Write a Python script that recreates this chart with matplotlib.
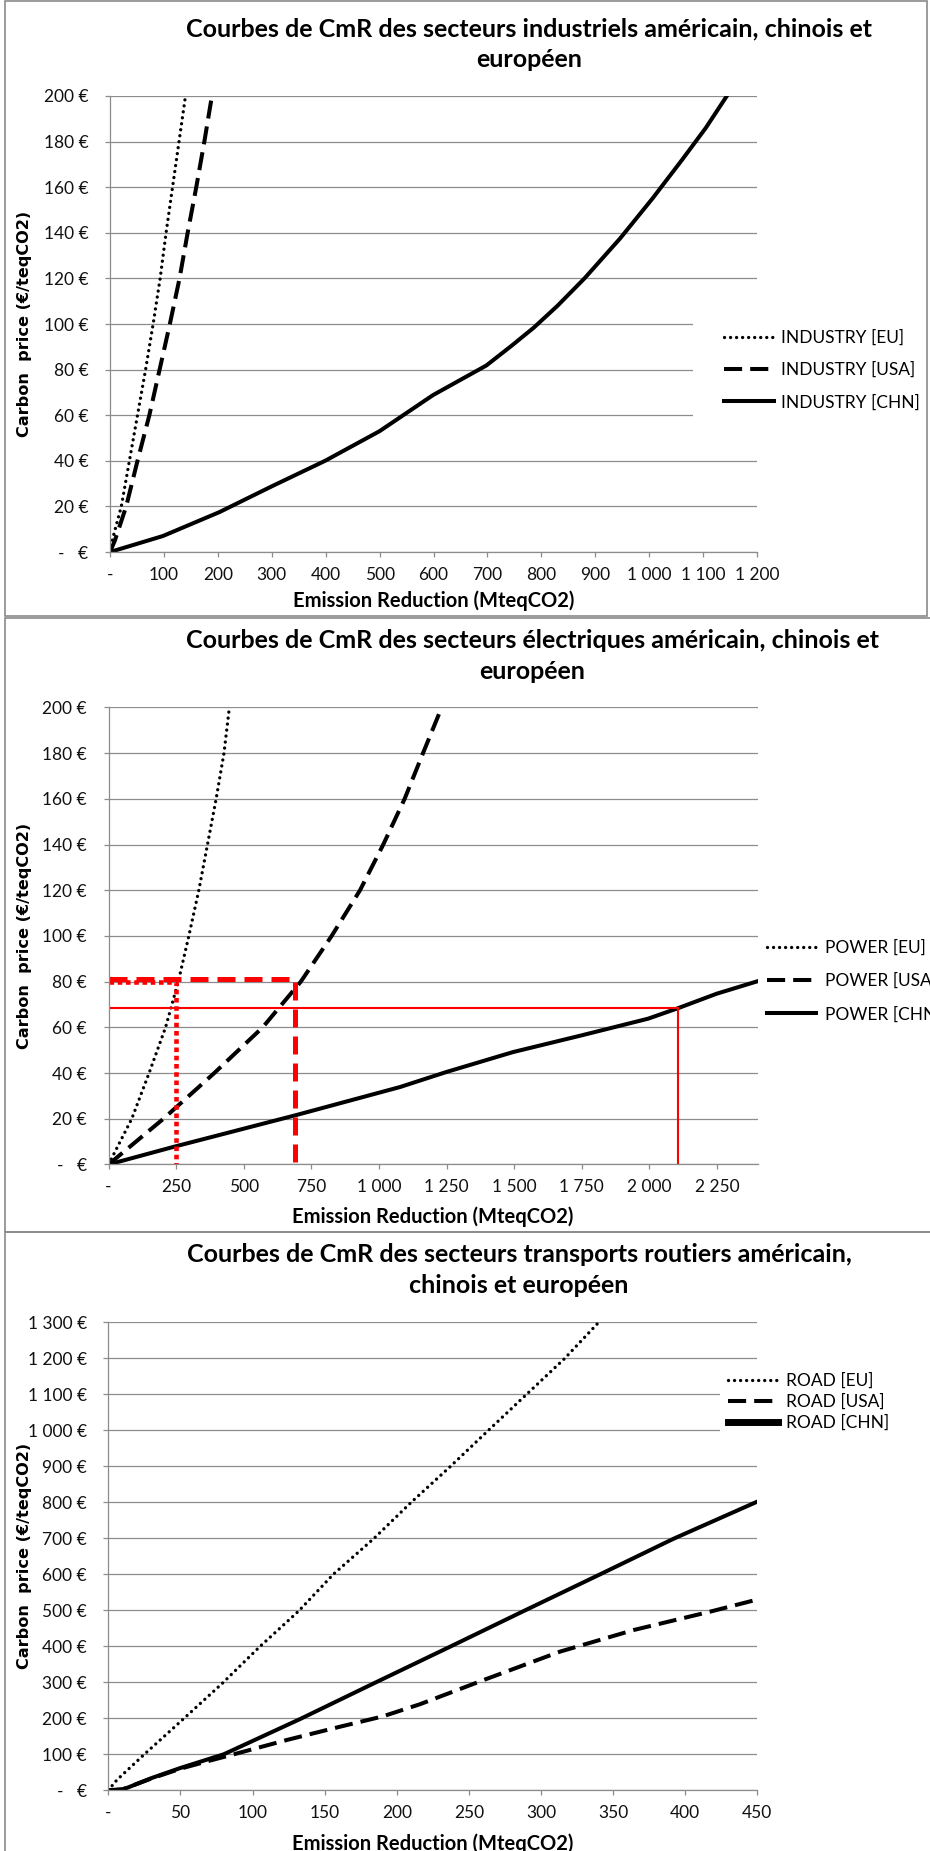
import matplotlib
matplotlib.use("Agg")
import matplotlib.pyplot as plt
from matplotlib.patches import Rectangle
from matplotlib.ticker import MultipleLocator, FuncFormatter

W, H = 930, 1851

# values
# x = emission reduction (MteqCO2), y = carbon price (EUR/teqCO2)
ind_eu_x = [0, 4, 21, 36, 51, 66, 80, 93, 104, 116, 128, 140]
ind_eu_y = [0, 5, 20, 40, 60, 80, 100, 120, 140, 160, 180, 200]
ind_usa_x = [0, 9, 30, 51, 73, 92, 111, 129, 144, 160, 175, 189]
ind_usa_y = [0, 5, 20, 40, 60, 80, 100, 120, 140, 160, 180, 200]
ind_chn_x = [0, 98, 203, 300, 399, 500, 599, 650, 698, 745, 786, 830, 880, 946, 1006, 1061, 1105, 1144]
ind_chn_y = [0, 7, 17.5, 28.8, 40, 53, 68.8, 75.5, 81.8, 90.5, 98.4, 108, 120, 137.5, 155, 172, 186, 200]

pow_eu_x = [0, 86, 150, 211, 258, 297, 334, 366, 398, 427, 447]
pow_eu_y = [0, 20, 40, 60, 80, 100, 120, 140, 160, 180, 200]
pow_usa_x = [0, 203, 391, 570, 711, 825, 930, 1016, 1095, 1163, 1232]
pow_usa_y = [0, 20, 40, 60, 80, 100, 120, 140, 160, 180, 200]
pow_chn_x = [0, 240, 690, 1078, 1250, 1496, 1749, 1995, 2106, 2248, 2400]
pow_chn_y = [0, 7.7, 21.5, 33.9, 40.5, 49.2, 56.5, 63.8, 68.4, 74.7, 80.2]
# red read-off lines (EU, USA, CHN): reduction reached at the given price
pow_read_x = [250, 690, 2106]
pow_read_y = [80, 81, 68.7]

road_eu_x = [0, 6, 25, 52, 79, 105, 132, 156, 184, 210, 237, 263, 290, 316, 340]
road_eu_y = [0, 29, 100, 198, 297, 399, 498, 600, 699, 800, 899, 998, 1100, 1198, 1300]
road_usa_x = [0, 10, 30, 50, 70, 87, 124, 161, 190, 216, 260, 313, 364, 417, 450]
road_usa_y = [0, 3, 33, 60, 82, 100, 140, 177, 205, 239, 306, 385, 445, 496, 530]
road_chn_x = [0, 10, 30, 50, 80, 133, 184, 237, 288, 341, 392, 450]
road_chn_y = [0, 2, 34, 62, 100, 198, 297, 399, 498, 600, 699, 802]

titles = [
    "Courbes de CmR des secteurs industriels américain, chinois et\neuropéen",
    "Courbes de CmR des secteurs électriques américain, chinois et\neuropéen",
    "Courbes de CmR des secteurs transports routiers américain,\nchinois et européen",
]
xlabel = "Emission Reduction (MteqCO2)"
ylabel = "Carbon  price (€/teqCO2)"

plt.rcParams['font.family'] = ['Lato', 'DejaVu Sans']

GRID = '#8c8c8c'
DOT = dict(color='black', lw=2.4, linestyle=(0, (0.01, 1.8)), dash_capstyle='round')
DASH = dict(color='black', lw=2.9, linestyle=(0, (4.5, 2.0)))
SOLID = dict(color='black', lw=2.9)
FS = 12.5

fig = plt.figure(figsize=(W / 100, H / 100), dpi=100)


def px_axes(left, right, top, bottom):
    return fig.add_axes([left / W, 1 - bottom / H, (right - left) / W, (bottom - top) / H])


def euro_fmt(v, pos):
    if v == 0:
        return '-   €'
    return '{:,.0f} €'.format(v).replace(',', ' ')


def mt_fmt(v, pos):
    if v == 0:
        return '-'
    return '{:,.0f}'.format(v).replace(',', ' ')


def style(ax, xmax, xstep, ymax, ystep, top, bottom, left, right, xlab_px):
    ax.set_xlim(0, xmax)
    ax.set_ylim(0, ymax)
    ax.xaxis.set_major_locator(MultipleLocator(xstep))
    ax.yaxis.set_major_locator(MultipleLocator(ystep))
    ax.xaxis.set_major_formatter(FuncFormatter(mt_fmt))
    ax.yaxis.set_major_formatter(FuncFormatter(euro_fmt))
    ax.grid(axis='y', color=GRID, lw=0.9)
    ax.set_axisbelow(True)
    for s in ['top', 'right']:
        ax.spines[s].set_visible(False)
    for s in ['left', 'bottom']:
        ax.spines[s].set_color(GRID)
        ax.spines[s].set_linewidth(0.9)
    ax.tick_params(axis='both', colors=GRID, labelcolor='#111111', length=3.5, width=0.9,
                   labelsize=FS)
    ax.tick_params(axis='y', pad=12)
    ax.tick_params(axis='x', pad=7)
    ax.set_xlabel(xlabel, fontsize=14.5, fontweight='bold')
    ax.set_ylabel(ylabel, fontsize=11.6, fontweight='bold', family='DejaVu Sans')
    ax.xaxis.set_label_coords(0.5, -(xlab_px - bottom) / (bottom - top))
    ax.xaxis.label.set_va('center')
    ax.yaxis.set_label_coords(-(left - 25) / (right - left), 0.5)
    ax.yaxis.label.set_va('center')


def title(text, cx, cy):
    fig.text(cx / W, 1 - cy / H, text, ha='center', va='center', fontsize=18,
             fontweight='bold', linespacing=1.4)


# panel frames
for (x0, y0, x1, y1) in [(5, 1, 927, 616), (5, 618, 940, 1232), (5, 1232, 940, 1870)]:
    fig.add_artist(Rectangle((x0 / W, 1 - y1 / H), (x1 - x0) / W, (y1 - y0) / H,
                             transform=fig.transFigure, fill=False, ec='#8a8a8a', lw=1.2))

# ---- panel 1 : industry
ax1 = px_axes(110, 757, 96, 552)
ax1.plot(ind_eu_x, ind_eu_y, label='INDUSTRY [EU]', **DOT)
ax1.plot(ind_usa_x, ind_usa_y, label='INDUSTRY [USA]', **DASH)
ax1.plot(ind_chn_x, ind_chn_y, label='INDUSTRY [CHN]', **SOLID)
style(ax1, 1200, 100, 200, 20, 96, 552, 110, 757, 601)
title(titles[0], 529, 44)
ax1.legend(loc='center left', bbox_to_anchor=(0.901, 0.399), borderaxespad=0, borderpad=1.78,
           handlelength=2.87, handletextpad=0.4, labelspacing=0.93, fontsize=FS,
           frameon=True, fancybox=False, edgecolor='none', facecolor='white', framealpha=1)

# ---- panel 2 : power
ax2 = px_axes(108.5, 757.5, 707.5, 1164.5)
ax2.plot(pow_eu_x, pow_eu_y, label='POWER [EU]', **DOT)
ax2.plot(pow_usa_x, pow_usa_y, label='POWER [USA]', **DASH)
ax2.plot(pow_chn_x, pow_chn_y, label='POWER [CHN]', **SOLID)
red_styles = [dict(lw=3.3, linestyle=(0, (1, 0.8))),
              dict(lw=3.6, linestyle=(0, (3.6, 1.8))),
              dict(lw=1.5, linestyle='-')]
for rx, ry, st in zip(pow_read_x, pow_read_y, red_styles):
    ax2.plot([0, rx, rx], [ry, ry, 0], color='#ff0000', solid_joinstyle='miter', **st)
style(ax2, 2400, 250, 200, 20, 707.5, 1164.5, 108.5, 757.5, 1217)
title(titles[1], 532, 656)
ax2.legend(handles=ax2.lines[:3], loc='center left', bbox_to_anchor=(1.0, 0.4015),
           borderaxespad=0, borderpad=0.57, handlelength=2.82, handletextpad=0.52,
           labelspacing=0.99, fontsize=FS, frameon=False)

# ---- panel 3 : road
ax3 = px_axes(108.3, 757.4, 1322.3, 1790.3)
ax3.plot(road_eu_x, road_eu_y, label='ROAD [EU]', **DOT)
ax3.plot(road_usa_x, road_usa_y, label='ROAD [USA]', **DASH)
ax3.plot(road_chn_x, road_chn_y, label='ROAD [CHN]', **SOLID)
style(ax3, 450, 50, 1300, 100, 1322.3, 1790.3, 108.3, 757.4, 1844)
title(titles[2], 519, 1270)
leg3 = ax3.legend(loc='center left', bbox_to_anchor=(0.9424, 0.8297), borderaxespad=0,
                  borderpad=0.46, handlelength=2.87, handletextpad=0.46, labelspacing=0.27,
                  fontsize=FS, frameon=True, fancybox=False, edgecolor='none',
                  facecolor='white', framealpha=1)
leg3.get_lines()[2].set_linewidth(5)

fig.savefig("out.png", dpi=100)
